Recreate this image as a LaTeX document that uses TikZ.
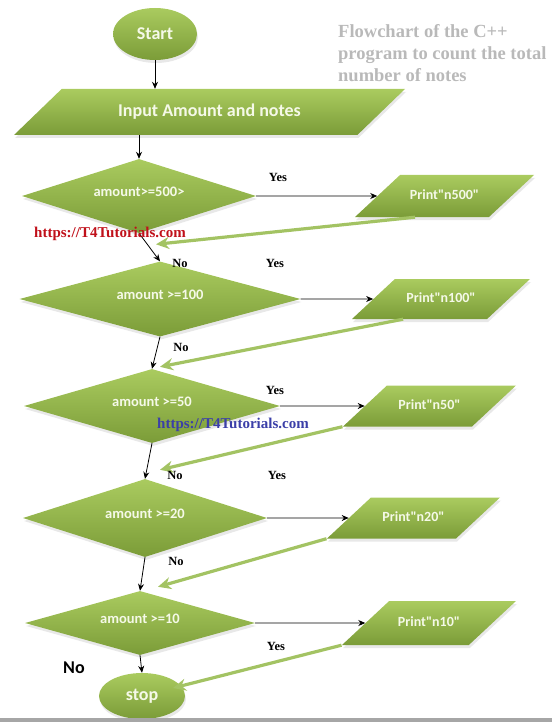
\documentclass[tikz,border=0pt]{standalone}
\usepackage{fontspec}
\setmainfont{Liberation Serif}
\newfontfamily\shapefont{Carlito}
\usepackage{tikz}
\usetikzlibrary{arrows.meta,positioning,calc,shapes.geometric,shadows}
\definecolor{leafhi}{HTML}{AACB5F}
\definecolor{leaflo}{HTML}{7B9C38}
\definecolor{leafline}{HTML}{A3C363}
\definecolor{shapetext}{HTML}{F5F9E8}
\definecolor{titlegray}{HTML}{B9B9B9}
\definecolor{markred}{HTML}{C0101A}
\definecolor{markblue}{HTML}{3B3FA8}

\begin{document}
\begin{tikzpicture}[
  x=1pt, y=-1pt,
  leaf/.style={top color=leafhi, bottom color=leaflo, text=shapetext, inner sep=0pt,
               font=\shapefont\bfseries\fontsize{14.5}{16}\selectfont,
               drop shadow={opacity=0.18, shadow xshift=1pt, shadow yshift=-3pt}},
  terminal/.style={leaf, ellipse, font=\shapefont\bfseries\fontsize{18}{20}\selectfont},
  decision/.style={leaf, diamond, aspect=3, text depth=8pt},
  slanted/.style={leaf, trapezium, trapezium left angle=43, trapezium right angle=137,
                  trapezium stretches body, text height=10pt, text depth=3pt},
  printbox/.style={slanted, inner ysep=#1, font=\shapefont\bfseries\fontsize{14}{16}\selectfont},
  flow/.style={-{Stealth[length=7pt,width=6pt]}, line width=0.8pt},
  back/.style={-{Stealth[length=13pt,width=12pt]}, line width=3.2pt, draw=leafline},
  yesno/.style={font=\bfseries\fontsize{12.5}{14}\selectfont, inner sep=0pt},
  wmark/.style={font=\bfseries\fontsize{15}{17}\selectfont, inner sep=0pt}
]
\useasboundingbox (0,0) rectangle (552,722);

% ===== main column =====
\node[terminal, minimum width=84pt, minimum height=52pt] (start) at (155,34) {Start};
\node[slanted, minimum width=391pt, inner ysep=14.5pt, text height=13pt, text depth=4pt,
      trapezium left angle=44, trapezium right angle=136,
      font=\shapefont\bfseries\fontsize{18}{20}\selectfont] (input) at (209.5,112) {Input Amount and notes};

\node[decision, minimum width=234pt, minimum height=74pt] (d1) at (139,196) {amount>=500>};
\node[decision, minimum width=281pt, minimum height=75pt] (d2) at (160,299) {amount >=100};
\node[decision, minimum width=256pt, minimum height=74pt] (d3) at (152,406) {amount >=50};
\node[decision, minimum width=244pt, minimum height=78pt] (d4) at (145,518) {amount >=20};
\node[decision, minimum width=230pt, minimum height=64pt] (d5) at (140,623) {amount >=10};

\node[terminal, minimum width=86pt, minimum height=46pt] (stop) at (142,696) {stop};

% ===== print boxes =====
\node[printbox=14.5pt, minimum width=179pt] (p1) at (444.5,196) {Print"n500"};
\node[printbox=13.5pt, minimum width=178pt] (p2) at (441,299) {Print"n100"};
\node[printbox=14pt, minimum width=173pt] (p3) at (429.5,406) {Print"n50"};
\node[printbox=14pt, minimum width=173pt] (p4) at (413.5,518) {Print"n20"};
\node[printbox=15.5pt, minimum width=174pt] (p5) at (429,623) {Print"n10"};

% arrows (no branch)
\draw[flow] (start.south) -- (start.south |- input.north);
\draw[flow] (input.south -| d1.north) -- (d1.north);
\draw[flow] (d1.south) -- (d2.north);
\draw[flow] (d2.south) -- (d3.north);
\draw[flow] (d3.south) -- (d4.north);
\draw[flow] (d4.south) -- (d5.north);
\draw[flow] (d5.south) -- (stop.north);

% arrows (yes branch)
\draw[flow] (d1.east) -- (p1);
\draw[flow] (d2.east) -- (p2);
\draw[flow] (d3.east) -- (p3);
\draw[flow] (d4.east) -- (p4);
\draw[flow] (d5.east) -- (p5);

% return arrows
\coordinate (g1) at ($(d2.north)+(-4,-17)$);
\coordinate (g2) at ($(d3.north)+(8,-2)$);
\coordinate (g3) at ($(d4.north)+(15,-9)$);
\coordinate (g4) at ($(d5.north)+(18,-4)$);
\coordinate (g5) at ($(stop.center)+(31,-8)$);
\draw[back] ($(p1.bottom left corner)!0.45!(p1.bottom right corner)$) -- (g1);
\draw[back] ($(p2.bottom left corner)!0.38!(p2.bottom right corner)$) -- (g2);
\draw[back] (p3.bottom left corner) -- (g3);
\draw[back] (p4.bottom left corner) -- (g4);
\draw[back] (p5.bottom left corner) -- (g5);

% branch labels
\node[yesno] (yes1) at (278,177) {Yes};
\node[yesno] (no1) at (180,263) {No};
\node[yesno] (yes2) at (275,263) {Yes};
\node[yesno] (no2) at (181,347) {No};
\node[yesno] (yes3) at (275,390) {Yes};
\node[yesno] (no3) at (175,475) {No};
\node[yesno] (yes4) at (277,475) {Yes};
\node[yesno] (no4) at (176,561) {No};
\node[yesno] (yes5) at (276,646) {Yes};
\node[font=\shapefont\bfseries\fontsize{18}{20}\selectfont, inner sep=0pt] (no5) at (74,668) {No};

% title and site marks
\node[anchor=north west, align=left, inner sep=0pt, text=titlegray,
      font=\bfseries\fontsize{18.5}{22}\selectfont] (title) at (338,24)
  {Flowchart of the C++\\program to count the total\\number of notes};
\node[wmark, text=markred] (wm1) at (110,234) {https://T4Tutorials.com};
\node[wmark, text=markblue] (wm2) at (233,425) {https://T4Tutorials.com};

\fill[gray!70] (0,718) rectangle (552,722);
\end{tikzpicture}
\end{document}
